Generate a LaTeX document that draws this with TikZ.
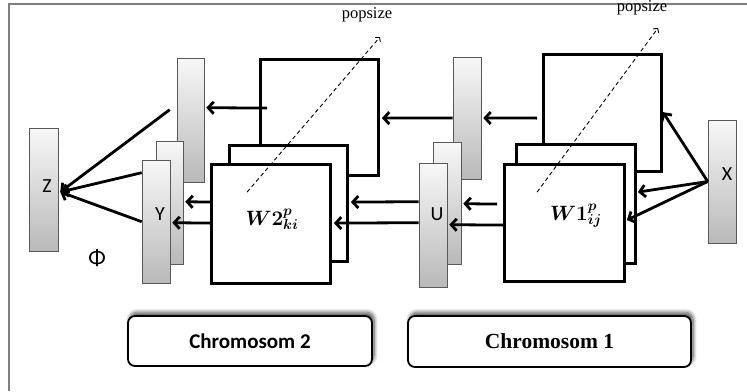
\documentclass[tikz,border=0pt]{standalone}
\usepackage{fontspec}
\setmainfont{Liberation Serif}
\newfontfamily\carlitofont{Carlito}
\usetikzlibrary{arrows.meta,calc,shadows.blur}
\begin{document}
\begin{tikzpicture}[x=1pt,y=-1pt,
  bar/.style={draw=gray!70!black, line width=0.6pt, top color=gray!6, bottom color=gray!55, inner sep=0pt},
  sq/.style={draw=black, line width=2.8pt, fill=white, inner sep=0pt},
  arr/.style={line width=2.8pt, -{Straight Barb[length=5.5pt,width=12pt]}},
  darr/.style={line width=0.9pt, dashed, dash pattern=on 4pt off 3pt, -{Straight Barb[length=3pt,width=7pt]}},
  lab/.style={font=\carlitofont\fontsize{20}{22}\selectfont, inner sep=0pt},
  wlab/.style={font=\boldmath\fontsize{21}{24}\selectfont, inner sep=0pt},
  chrom/.style={draw=black, line width=1.8pt, rounded corners=7pt, fill=white, inner sep=0pt,
    blur shadow={shadow xshift=2pt, shadow yshift=3.5pt, shadow blur steps=8, shadow opacity=70, shadow blur radius=4pt}},
]
\useasboundingbox (0,0) rectangle (747,391);
\draw[gray, line width=2pt] (9,391) -- (9,4) -- (747,4);

% bars
\node[bar, minimum width=29, minimum height=123] (zbar) at (43.5,189.5) {};
\node[bar, minimum width=27, minimum height=124] (b2top) at (190.5,120) {};
\node[bar, minimum width=27, minimum height=123] (yback) at (169.5,202.5) {};
\node[bar, minimum width=28, minimum height=123] (yfront) at (156,221.5) {};
\node[bar, minimum width=28, minimum height=122] (b1top) at (467,118) {};
\node[bar, minimum width=28, minimum height=122] (uback) at (447,203) {};
\node[bar, minimum width=28, minimum height=124] (ufront) at (433,225) {};
\node[bar, minimum width=28, minimum height=123] (xbar) at (722,181.5) {};

\node[lab] (zl) at (47,186) {Z};
\node[lab] (yl) at (160,214) {Y};
\node[lab] (ul) at (437,214) {U};
\node[lab] (xl) at (727,174) {X};
\node[font=\carlitofont\fontsize{23}{25}\selectfont, inner sep=0pt] (phi) at (97,258) {Φ};

% squares
\node[sq, minimum width=118, minimum height=116] (w2top) at (319.5,117.5) {};
\node[sq, minimum width=118, minimum height=116] (w2mid) at (288.5,203.5) {};
\node[sq, minimum width=119, minimum height=119] (w2front) at (271,224) {};
\node[sq, minimum width=118, minimum height=117] (w1top) at (602.5,113) {};
\node[sq, minimum width=119, minimum height=119] (w1mid) at (576,204) {};
\node[sq, minimum width=120, minimum height=117] (w1front) at (564.5,223) {};

\node[wlab] (w2l) at (272,219) {$W2^{p}_{ki}$};
\node[wlab] (w1l) at (576,216) {$W1^{p}_{ij}$};

% coordinates
\coordinate (zin) at ($(zbar.east)+(2,2.5)$);
\coordinate (xin) at (xbar.west);

% arrows into Z
\draw[arr] ($(b2top.north west)+(-7,52)$) -- (zin);
\draw[arr] ($(yfront.north west)+(0,13)$) -- (zin);
\draw[arr] ($(yfront.north west)+(0,62)$) -- (zin);

% chromosome 2 side
\draw[arr] ($(w2top.north west)+(8,50)$) -- ($(b2top.north east)+(2,50)$);
\draw[arr] ($(w2front.north west)+(0,39)$) -- ($(yback.north east)+(2,61)$);
\draw[arr] ($(w2front.north west)+(0,60)$) -- ($(yfront.north east)+(2,63)$);

% middle
\draw[arr] (b1top.west) -- ($(w2top.north east)+(2,60)$);
\draw[arr] ($(w1top.north west)+(-5,65)$) -- ($(b1top.east)+(2,0)$);
\draw[arr] ($(ufront.north west)+(0,39)$) -- ($(w2mid.north east)+(2,58)$);
\draw[arr] ($(ufront.north west)+(0,60)$) -- ($(w2front.north east)+(2,60)$);
\draw[arr] ($(w1front.north west)+(-6,41)$) -- ($(uback.north east)+(2,62)$);
\draw[arr] ($(w1front.north west)+(0,62)$) -- ($(ufront.north east)+(2,62)$);

% from X
\draw[arr] (xin) -- ($(w1top.north east)+(0,59)$);
\draw[arr] (xin) -- ($(w1mid.north east)+(1,49)$);
\draw[arr] (xin) -- ($(w1front.north east)+(1,57)$);

% popsize
\coordinate (p2) at (380,37);
\coordinate (p1) at (658,28);
\draw[darr] ($(w2front.north west)+(37,29)$) -- (p2);
\draw[darr] ($(w1front.north west)+(34,29)$) -- (p1);
\node[font=\fontsize{16.5}{18}\selectfont, inner sep=0pt] (pt2) at (367,15) {popsize};
\node[font=\fontsize{16.5}{18}\selectfont, inner sep=0pt] (pt1) at (642,8) {popsize};

% chromosome boxes
\node[chrom, minimum width=244, minimum height=50, font=\carlitofont\bfseries\fontsize{21}{24}\selectfont] (c2) at (250,341) {Chromosom 2};
\node[chrom, minimum width=283, minimum height=51, font=\bfseries\fontsize{21.5}{24}\selectfont] (c1) at (549.5,341.5) {Chromosom 1};
\end{tikzpicture}
\end{document}
